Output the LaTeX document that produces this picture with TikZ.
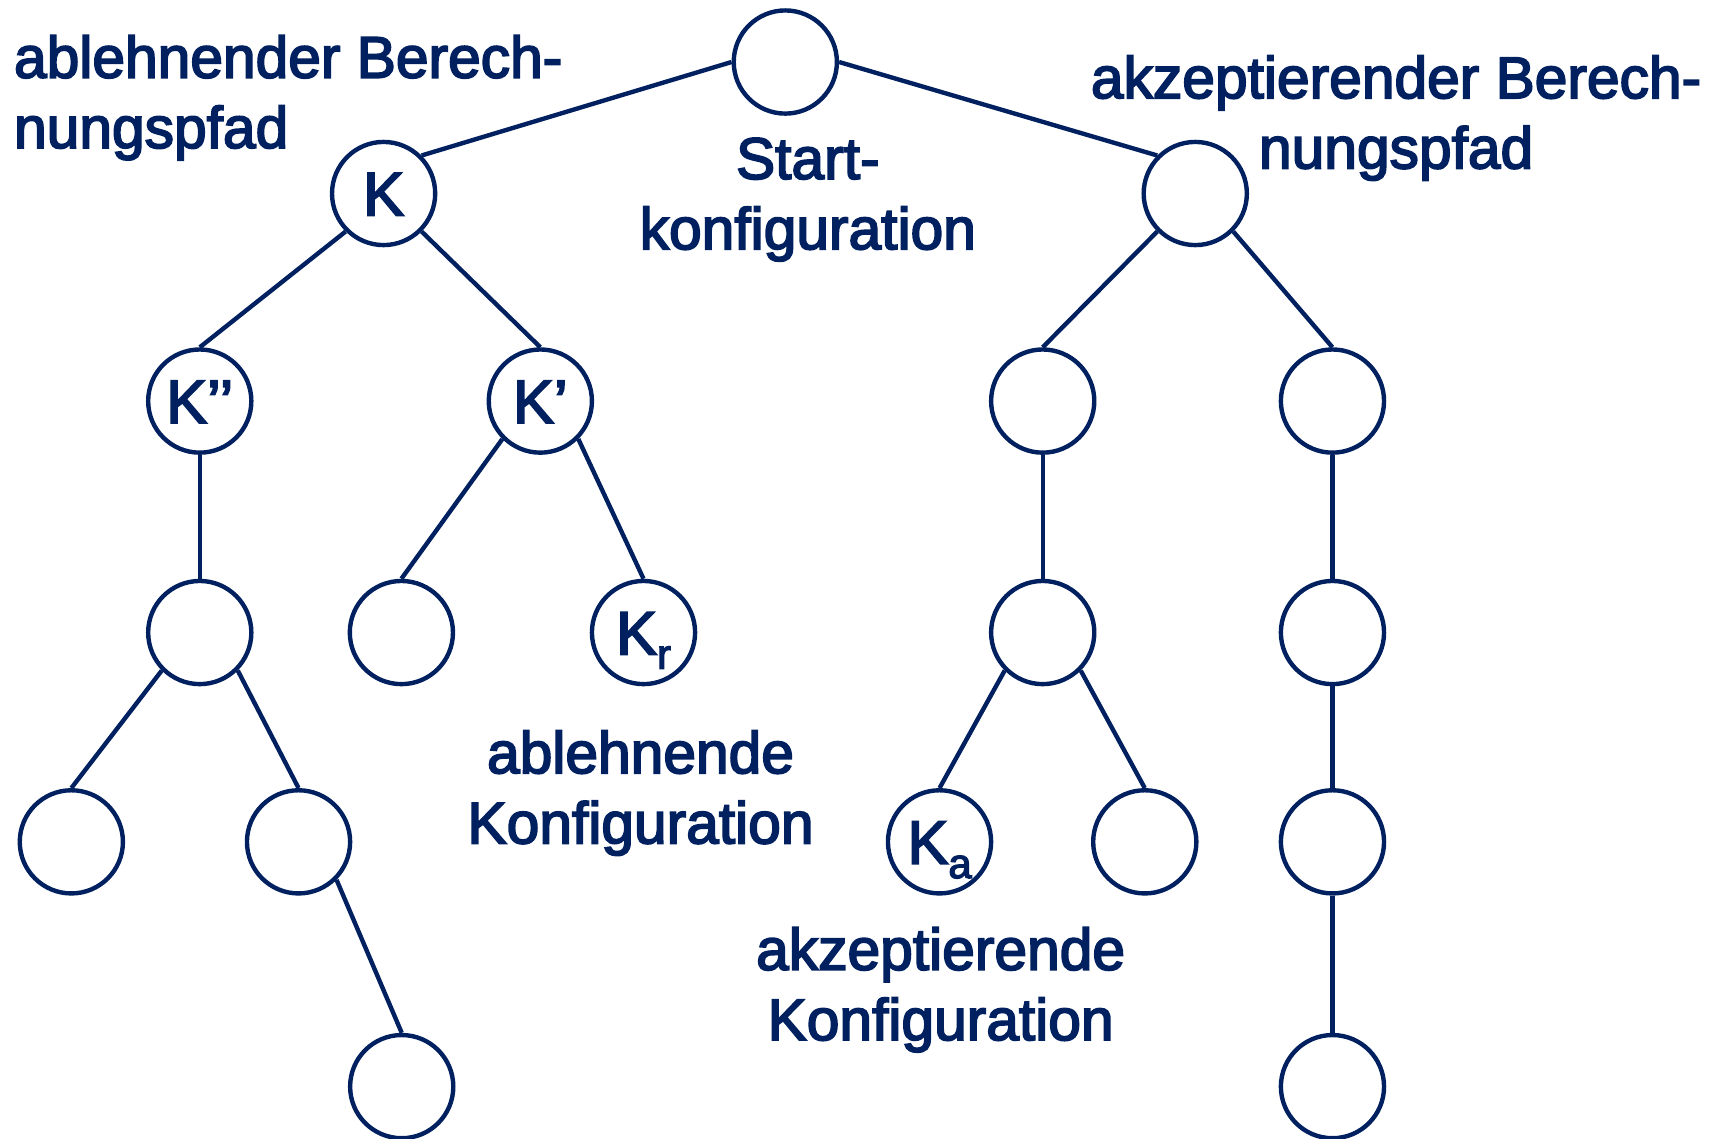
\documentclass[tikz,border=0pt]{standalone}
\usepackage{fontspec}
\setmainfont{Liberation Sans}
% slightly heavier face for all lettering
\newfontfamily\heavysans[FakeBold=3]{Liberation Sans}
\definecolor{navy}{RGB}{0,32,96}
\tikzset{
  conf/.style={circle, draw=navy, line width=4pt, minimum size=94pt, inner sep=0pt,
    text=navy, font=\heavysans\fontsize{56}{60}\selectfont, text height=40pt, text depth=0pt},
  edge/.style={draw=navy, line width=4pt},
  caption/.style={text=navy, font=\heavysans\fontsize{53.5}{64}\selectfont, inner sep=0pt, anchor=base}
}
\newcommand{\subidx}[1]{\raisebox{-13pt}{\fontsize{38}{40}\selectfont #1}}
\begin{document}
\begin{tikzpicture}[x=1pt, y=-1pt]
\useasboundingbox (0,0) rectangle (1568,1037);
% configurations
\node[conf] (root) at (715.5,56.5) {};
\node[conf] (K)    at (349.5,176.3) {K};
\node[conf] (R1)   at (1089,176.3) {};
\node[conf] (K2)   at (182,365.4) {K’’};
\node[conf] (K1)   at (492.3,365.4) {K’};
\node[conf] (R2a)  at (950,365.4) {};
\node[conf] (R2b)  at (1214,365.4) {};
\node[conf] (L3)   at (182,576.3) {};
\node[conf] (E)    at (365.7,576.3) {};
\node[conf] (Kr)   at (586.3,576.3) {K\subidx{r}};
\node[conf] (R3a)  at (950,576.3) {};
\node[conf] (R3b)  at (1214,576.3) {};
\node[conf] (L4a)  at (65,767) {};
\node[conf] (L4b)  at (272,767) {};
\node[conf] (Ka)   at (856,767) {K\subidx{a}};
\node[conf] (R4a)  at (1043,767) {};
\node[conf] (R4b)  at (1214,767) {};
\node[conf] (L5)   at (366,990) {};
\node[conf] (R5)   at (1214,990) {};
% transitions
\draw[edge] (root.west) -- (K.north east);
\draw[edge] (root.east) -- (R1.north west);
\draw[edge] (K.south west) -- (K2.north);
\draw[edge] (K.south east) -- (K1.north);
\draw[edge] (R1.south west) -- (R2a.north);
\draw[edge] (R1.south east) -- (R2b.north);
\draw[edge] (K2.south) -- (L3.north);
\draw[edge] (K1.south west) -- (E.north);
\draw[edge] (K1.south east) -- (Kr.north);
\draw[edge] (R2a.south) -- (R3a.north);
\draw[edge] (R2b.south) -- (R3b.north);
\draw[edge] (L3.south west) -- (L4a.north);
\draw[edge] (L3.south east) -- (L4b.north);
\draw[edge] (R3a.south west) -- (Ka.north);
\draw[edge] (R3a.south east) -- (R4a.north);
\draw[edge] (R3b.south) -- (R4b.north);
\draw[edge] (L4b.south east) -- (L5.north);
\draw[edge] (R4b.south) -- (R5.north);
% captions
\node[caption, align=left, anchor=base west] (t1) at (12.6,134.8) {ablehnender Berech-\\nungspfad};
\node[caption, align=center] (t2) at (736,227) {Start-\\konfiguration};
\node[caption, align=center] (t3) at (1272,153.4) {akzeptierender Berech-\\nungspfad};
\node[caption, align=center] (t4) at (583.6,768.4) {ablehnende\\Konfiguration};
\node[caption, align=center] (t5) at (857,947.6) {akzeptierende\\Konfiguration};
\end{tikzpicture}
\end{document}
